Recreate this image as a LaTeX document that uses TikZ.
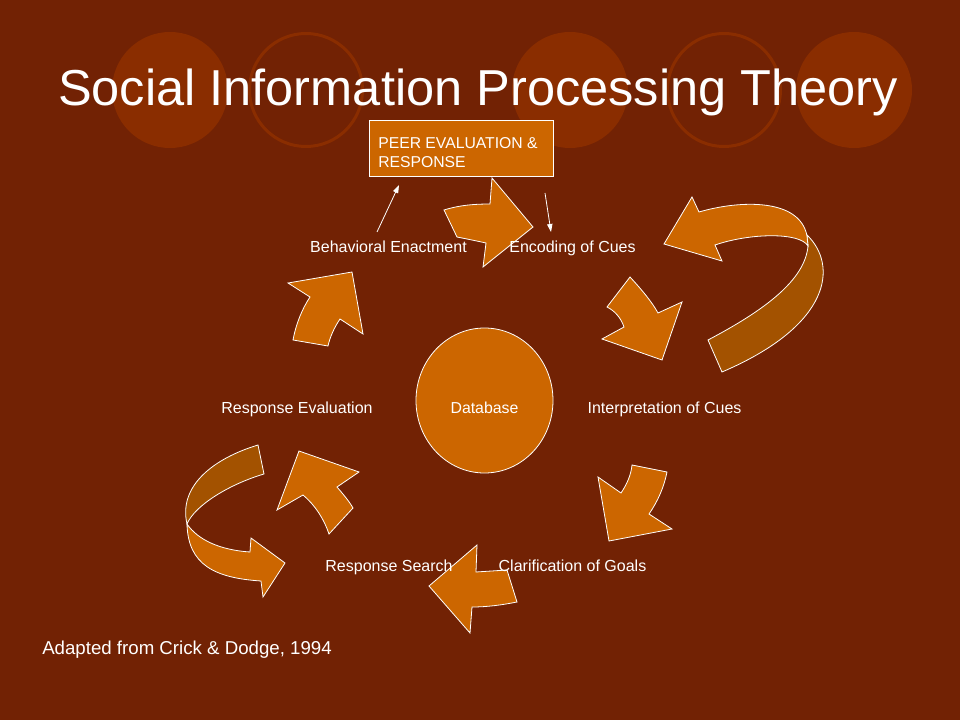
\documentclass[tikz,border=0pt]{standalone}
\usepackage{fontspec}
\setmainfont{Liberation Sans}
\usetikzlibrary{arrows.meta,shapes.geometric}
\definecolor{bg}{HTML}{722204}
\definecolor{deco}{HTML}{8A2D00}
\definecolor{orng}{HTML}{CC6600}
\definecolor{dorng}{HTML}{A35200}
\begin{document}
\begin{tikzpicture}[x=0.75pt,y=-0.75pt,
  blk/.style={fill=orng,draw=white,line width=0.6pt,line join=miter},
  dk/.style={fill=dorng,draw=white,line width=0.6pt,line join=miter},
  lbl/.style={text=white,font=\fontsize{12}{14}\selectfont,anchor=base,inner sep=0pt},
  ptr/.style={draw=white,line width=0.6pt,-{Triangle[length=6pt,width=4pt]}},
  ring/.style={draw=deco,line width=2.25pt}]
% background
\fill[bg] (0,0) rectangle (960,720);
\useasboundingbox (0,0) rectangle (960,720);
% decorative circles
\fill[deco] (170,90) circle[radius=58];
\draw[ring] (306,90) circle[radius=56.5];
\fill[deco] (570,90) circle[radius=58];
\draw[ring] (724,90) circle[radius=56.5];
\fill[deco] (854,90) circle[radius=58];
% title
\node[lbl,font=\fontsize{37.9}{44}\selectfont] (title) at (478,106) {Social Information Processing Theory};
% peer box
\node[fill=orng,draw=white,line width=0.75pt,anchor=north west,minimum width=138pt,minimum height=42pt,inner sep=0pt] (peer) at (369,120) {};
\node[lbl,anchor=base west,font=\fontsize{11.8}{14}\selectfont] (peer1) at (378,149) {PEER EVALUATION \&};
\node[lbl,anchor=base west,font=\fontsize{11.8}{14}\selectfont] (peer2) at (378,168) {RESPONSE};
% database
\node[ellipse,fill=orng,draw=white,line width=0.6pt,minimum width=102.75pt,minimum height=108.75pt,inner sep=0pt] (db) at (484.5,400.5) {};
\node[lbl,font=\fontsize{11.9}{14}\selectfont] (dbl) at (484.5,413) {Database};
% block arrows
% A top
\draw[blk] (444,210) .. controls (460,205) and (475,204) .. (490,204) -- (492,178) -- (533,227) -- (483,267) -- (486,243) .. controls (477,241) and (467,239) .. (457,237) -- cycle;
% B
\draw[blk] (630,277) .. controls (642,290) and (652,302) .. (658,313) -- (682,302) -- (662,360) -- (602,339) -- (624,327) .. controls (621,318) and (615,311) .. (607,307) -- cycle;
% C big right
\draw[dk] (807,235) .. controls (838,265) and (832,325) .. (722,372) -- (708,340) .. controls (765,310) and (805,280) .. (808,246) -- cycle;
\draw[blk] (664,244) -- (692,197) -- (699,212) .. controls (740,200) and (800,198) .. (807,236) -- (808,246) .. controls (800,232) and (750,233) .. (715,245) -- (722,261) -- cycle;
% D
\draw[blk] (632,465) -- (667,472) .. controls (664,487) and (658,501) .. (649,514) -- (672,529) -- (609,541) -- (598,477) -- (621,493) .. controls (627,484) and (631,475) .. (632,465) -- cycle;
% E
\draw[blk] (507,570) -- (517,602) .. controls (502,605) and (487,607) .. (472,607) -- (470,633) -- (429,586) -- (477,545) -- (476,572) -- cycle;
% F
\draw[blk] (277,510) -- (299,451) -- (359,472) -- (337,487) .. controls (343,494) and (349,501) .. (353,508) -- (329,534) .. controls (324,519) and (315,505) .. (303,495) -- cycle;
% G big left
\draw[dk] (258,445) .. controls (215,458) and (178,485) .. (187,524) .. controls (195,505) and (230,484) .. (264,474) -- cycle;
\draw[blk] (187,524) .. controls (198,540) and (220,550) .. (250,552) -- (251,538) -- (285,563) -- (263,597) -- (261,581) .. controls (215,578) and (188,565) .. (187,524) -- cycle;
% H
\draw[blk] (288,283) -- (352,272) -- (363,334) -- (340,319) .. controls (334,328) and (330,337) .. (328,346) -- (293,340) .. controls (296,324) and (302,309) .. (310,297) -- cycle;
% labels
\node[lbl] (be) at (388.5,253) {Behavioral Enactment};
\node[lbl] (enc) at (572.5,253) {Encoding of Cues};
\node[lbl] (int) at (664.5,413) {Interpretation of Cues};
\node[lbl] (rev) at (297,413) {Response Evaluation};
\node[lbl] (rs) at (389,571) {Response Search};
\node[lbl] (cg) at (572.5,571) {Clarification of Goals};
% pointers to/from peer box
\coordinate (beA) at (377,232);
\coordinate (beB) at (399,185);
\coordinate (ecA) at (545,193);
\coordinate (ecB) at (551,232);
\draw[ptr] (beA) -- (beB);
\draw[ptr] (ecA) -- (ecB);
% source
\node[lbl,anchor=base west,font=\fontsize{14}{16}\selectfont] (src) at (42,654) {Adapted from Crick \& Dodge, 1994};
\end{tikzpicture}
\end{document}
